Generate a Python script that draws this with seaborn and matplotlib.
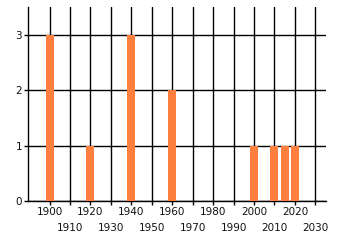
import matplotlib
matplotlib.use("Agg")
import matplotlib.pyplot as plt
import seaborn as sns
import pandas as pd

years = [1900, 1920, 1940, 1960, 2000, 2010, 2015, 2020]
counts = [3, 1, 3, 2, 1, 1, 1, 1]
xticks_row1 = list(range(1900, 2021, 20))
xticks_row2 = list(range(1910, 2031, 20))
yticks = [0, 1, 2, 3]

sns.set_style("white")
plt.rcParams['font.family'] = ['DejaVu Sans']

df = pd.DataFrame({"year": years, "count": counts})
fig = plt.figure(figsize=(3.4, 2.45), dpi=100)
ax = fig.add_axes([28.5 / 340, 1 - 201 / 245, (326 - 28.5) / 340, (201 - 7) / 245])
sns.barplot(data=df, x="year", y="count", native_scale=True, width=0.78,
            color="#FF7F3F", saturation=1, linewidth=0, edgecolor="none",
            ax=ax, zorder=3)

ax.set_xlim(1889.7, 2035.2)
ax.set_ylim(0, 3.5)
ax.set_xticks(xticks_row1)
ax.set_xticklabels([str(t) for t in xticks_row1])
ax.set_xticks(xticks_row2, minor=True)
ax.set_xticklabels([str(t) for t in xticks_row2], minor=True)
ax.set_yticks(yticks)
ax.set_xlabel("")
ax.set_ylabel("")
ax.grid(True, which="major", color="black", linewidth=1.0, zorder=0)
ax.grid(True, which="minor", axis="x", color="black", linewidth=1.0, zorder=0)
ax.set_axisbelow(True)
for s in ["top", "right"]:
    ax.spines[s].set_visible(False)
for s in ["left", "bottom"]:
    ax.spines[s].set_color("black")
    ax.spines[s].set_linewidth(1.0)
ax.tick_params(axis="both", which="both", length=3, width=1, color="black",
               labelsize=7.5, labelcolor="#111111", pad=1.5, bottom=True, left=True)
ax.tick_params(axis="x", which="minor", pad=13)
fig.savefig("out.png", dpi=100)
